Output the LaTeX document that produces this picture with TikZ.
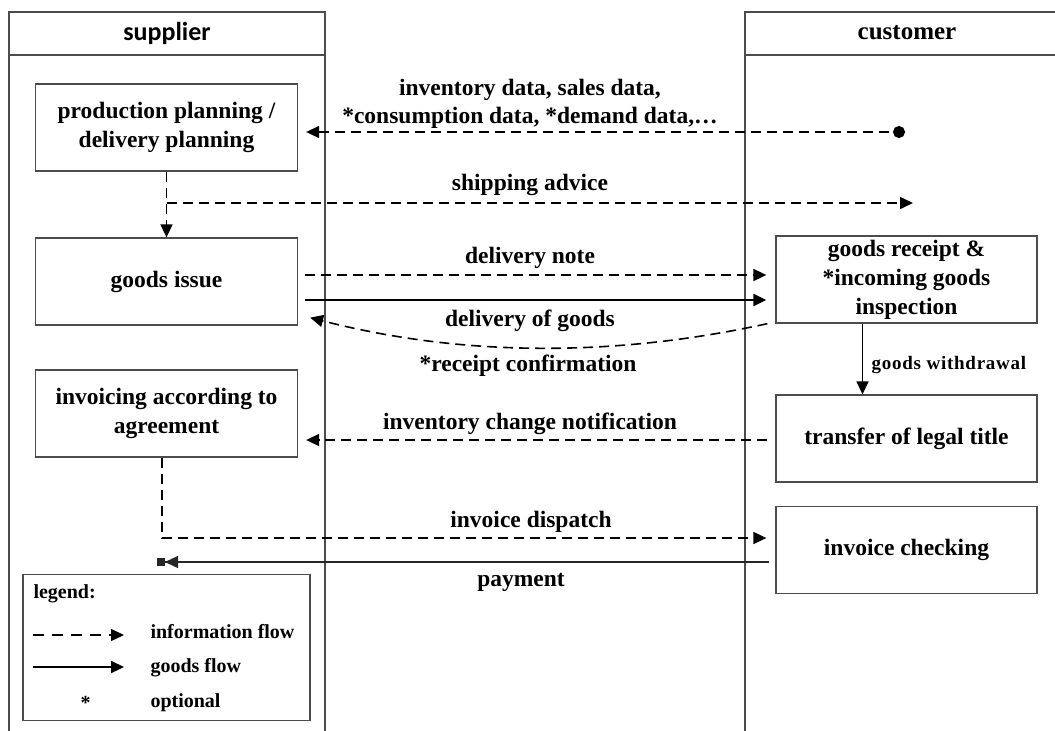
\documentclass[tikz,border=0pt]{standalone}
\usepackage{fontspec}
\setmainfont{Liberation Serif}
\newfontfamily\hdrsans{Carlito}
\newfontfamily\spacedserif[LetterSpace=4]{Liberation Serif}
\usetikzlibrary{arrows.meta}

\begin{document}
\begin{tikzpicture}[x=1pt,y=-1pt,
  >={Triangle[length=13pt,width=12pt]},
  lane/.style={draw=black!70, line width=1.3pt},
  box/.style={draw=black!70, line width=1.3pt, minimum width=262pt,
    minimum height=87pt, align=center,
    font=\fontsize{23.5}{29}\selectfont\bfseries},
  lbl/.style={font=\fontsize{23.5}{28}\selectfont\bfseries, align=center},
  hdr/.style={font=\fontsize{25}{30}\selectfont\bfseries},
  small/.style={font=\spacedserif\fontsize{19}{22}\selectfont\bfseries},
  legtext/.style={font=\fontsize{20}{23}\selectfont\bfseries, anchor=west},
  info/.style={line width=1.6pt, dash pattern=on 10pt off 6pt, ->},
  goods/.style={line width=2.2pt, ->},
  thin/.style={line width=1.4pt, ->},
]
\useasboundingbox (0,0) rectangle (1055,731);
\fill[white] (0,0) rectangle (1055,731);

% swim lanes
\draw[lane] (9,745) -- (9,12) -- (325,12) -- (325,745);
\draw[lane] (9,55) -- (325,55);
\draw[lane] (745,745) -- (745,12) -- (1070,12);
\draw[lane] (745,55) -- (1070,55);
\node[hdr, font=\hdrsans\fontsize{26}{30}\selectfont\bfseries] (suphdr) at (167,33) {supplier};
\node[hdr] (cushdr) at (907,33) {customer};

% supplier activities
\node[box] (pp)  at (166.5,127.5) {production planning /\\delivery planning};
\node[box] (gi)  at (166.5,281.5) {goods issue};
\node[box] (inv) at (166.5,413.5) {invoicing according to\\agreement};

% customer activities
\node[box, minimum width=261pt] (gr) at (906.5,279.5) {goods receipt \&\\*incoming goods\\inspection};
\node[box, minimum width=261pt] (tt) at (906.5,438.5) {transfer of legal title};
\node[box, minimum width=261pt] (ic) at (906.5,550) {invoice checking};

% free ends of flows
\coordinate (invsrc)  at (905,132);
\coordinate (shipdst) at (913,203);
\coordinate (paydst)  at (157,562);

% inventory / sales data
\draw[info, <-{Circle[length=12pt]}, shorten <=8pt] (pp.east |- invsrc) -- (invsrc);
\node[lbl] (invlbl) at (530,104) {inventory data, sales data,\\*consumption data, *demand data,\dots};

% planning to goods issue, shipping advice
\draw[info] (pp.south) -- (gi.north);
\draw[info] (pp.south |- shipdst) -- (shipdst);
\node[lbl] (shiplbl) at (530,185) {shipping advice};

% delivery note and delivery of goods
\draw[info, shorten <=7pt, shorten >=9pt] (gi.east |- 0,275) -- (gr.west |- 0,275);
\node[lbl] (dnlbl) at (530,258) {delivery note};
\draw[goods, shorten <=7pt, shorten >=9pt] (gi.east |- 0,300) -- (gr.west |- 0,300);
\node[lbl] (dglbl) at (530,321) {delivery of goods};

% receipt confirmation
\draw[info] ([xshift=-8pt]gr.south west) .. controls (615,357) and (463,357) .. ([xshift=12pt,yshift=8pt]gi.south east);
\node[lbl] (rclbl) at (528,366) {*receipt confirmation};

% goods withdrawal
\draw[thin] ([xshift=-44pt]gr.south) -- ([xshift=-44pt]tt.north);
\node[small, anchor=west] (gwlbl) at (868,365) {goods withdrawal};

% inventory change notification
\draw[info, shorten <=8pt, shorten >=8pt] (tt.west |- 0,440) -- (inv.east |- 0,440);
\node[lbl] (icnlbl) at (530,424) {inventory change notification};

% invoice dispatch
\draw[info, shorten >=9pt] ([xshift=-4.5pt]inv.south) |- (ic.west |- 0,538);
\node[lbl] (idlbl) at (531,522) {invoice dispatch};

% payment
\draw[line width=1.3pt, draw=black!85, -{Triangle[length=13pt,width=12pt] Square[length=8pt,width=8pt]}, shorten <=6pt] (ic.west |- paydst) -- (paydst);
\node[lbl] (paylbl) at (521,582) {payment};

% legend
\node[draw=black!70, line width=1.3pt, minimum width=287pt, minimum height=146pt] (legend) at (166.5,647.5) {};
\node[legtext] (legtitle) at (30,594) {legend:};
\coordinate (l1a) at (33,635);
\coordinate (l1b) at (124,635);
\coordinate (l2a) at (33,667);
\coordinate (l2b) at (124,667);
\draw[line width=1.4pt, dash pattern=on 11pt off 8pt, ->] (l1a) -- (l1b);
\draw[goods] (l2a) -- (l2b);
\node[legtext] (l1t) at (147,632) {information flow};
\node[legtext] (l2t) at (147,668) {goods flow};
\node[legtext] (l3s) at (77,703) {*};
\node[legtext] (l3t) at (147,703) {optional};
\end{tikzpicture}
\end{document}
